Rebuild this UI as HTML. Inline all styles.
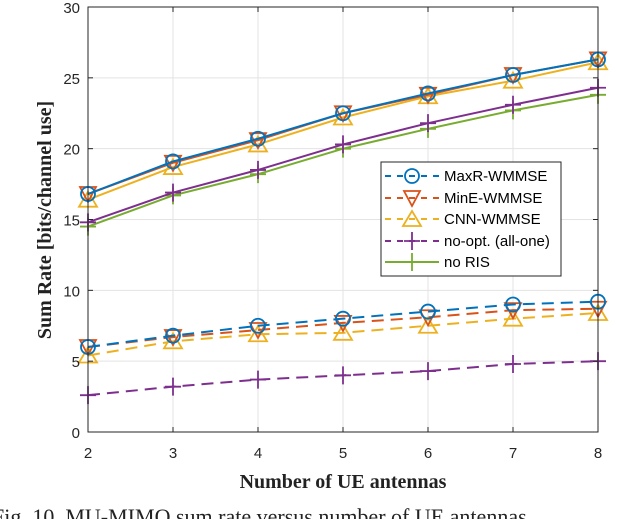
<!DOCTYPE html>
<html><head><meta charset="utf-8"><style>
body{margin:0;background:#fff;}
svg{display:block;font-family:"Liberation Sans",sans-serif;}
</style></head><body>
<svg id="chart" width="640" height="519" viewBox="0 0 640 519" xmlns="http://www.w3.org/2000/svg">
<g id="grid"></g>
<g id="series"></g>
<g id="axes"></g>
<text x="0" y="0" transform="translate(51,220) rotate(-90)" text-anchor="middle" font-family="Liberation Serif,serif" font-weight="bold" font-size="20" fill="#222">Sum Rate [bits/channel use]</text>
<text x="343" y="488" text-anchor="middle" font-family="Liberation Serif,serif" font-weight="bold" font-size="20" fill="#222">Number of UE antennas</text>
<text x="-8" y="524" font-family="Liberation Serif,serif" font-size="22" fill="#222">Fig. 10. MU-MIMO sum rate versus number of UE antennas</text>
<g id="legend"></g>
</svg>
<script>
const categories=[2,3,4,5,6,7,8];
const yTicks=[0,5,10,15,20,25,30];
const maxrSolid=[16.8,19.1,20.7,22.5,23.9,25.2,26.3];
const mineSolid=[16.8,19.0,20.6,22.5,23.8,25.2,26.3];
const cnnSolid=[16.4,18.7,20.3,22.2,23.7,24.8,26.1];
const nooptSolid=[14.8,16.9,18.5,20.3,21.8,23.1,24.3];
const norisSolid=[14.5,16.7,18.2,20.0,21.4,22.7,23.8];
const maxrDashed=[6.0,6.8,7.5,8.0,8.5,9.0,9.2];
const mineDashed=[6.0,6.7,7.2,7.7,8.1,8.6,8.7];
const cnnDashed=[5.4,6.4,6.9,7.0,7.5,8.0,8.4];
const nooptDashed=[2.6,3.2,3.7,4.0,4.3,4.8,5.0];
const legendLabels=["MaxR-WMMSE","MinE-WMMSE","CNN-WMMSE","no-opt. (all-one)","no RIS"];

const NS="http://www.w3.org/2000/svg";
const L=88,R=598,T=7,B=432;
const xs=v=>L+(v-2)/6*(R-L);
const ys=v=>B-v/30*(B-T);
function mk(tag,attrs,parent){const e=document.createElementNS(NS,tag);for(const k in attrs)e.setAttribute(k,attrs[k]);parent.appendChild(e);return e;}
const grid=document.getElementById('grid'),axes=document.getElementById('axes'),ser=document.getElementById('series'),leg=document.getElementById('legend');
mk('rect',{x:L,y:T,width:R-L,height:B-T,fill:'#fff'},grid);
categories.forEach(c=>{
  const g=mk('line',{x1:xs(c),x2:xs(c),y1:T,y2:B,stroke:'#e3e3e3','stroke-width':1},grid);
  
  const t=mk('text',{x:xs(c),y:B+26,'text-anchor':'middle','font-size':15,fill:'#262626'},axes);t.textContent=c;
  
  mk('line',{x1:xs(c),x2:xs(c),y1:B,y2:B-5,stroke:'#262626'},axes);
  mk('line',{x1:xs(c),x2:xs(c),y1:T,y2:T+5,stroke:'#262626'},axes);
});
yTicks.forEach(v=>{
  const g=mk('line',{x1:L,x2:R,y1:ys(v),y2:ys(v),stroke:'#e3e3e3','stroke-width':1},grid);
  
  const t=mk('text',{x:L-8,y:ys(v)+6,'text-anchor':'end','font-size':15,fill:'#262626'},axes);t.textContent=v;
  
  mk('line',{x1:L,x2:L+5,y1:ys(v),y2:ys(v),stroke:'#262626'},axes);
  mk('line',{x1:R,x2:R-5,y1:ys(v),y2:ys(v),stroke:'#262626'},axes);
});
mk('rect',{x:L,y:T,width:R-L,height:B-T,fill:'none',stroke:'#262626','stroke-width':1},axes);

function marker(type,x,y,color,parent){
  if(type==='o')return mk('circle',{cx:x,cy:y,r:7,fill:'none',stroke:color,'stroke-width':1.8},parent);
  if(type==='v')return mk('path',{d:`M${x-8},${y-7}L${x+8},${y-7}L${x},${y+8}Z`,fill:'none',stroke:color,'stroke-width':1.8},parent);
  if(type==='^')return mk('path',{d:`M${x-9},${y+7}L${x+9},${y+7}L${x},${y-8}Z`,fill:'none',stroke:color,'stroke-width':1.8},parent);
  if(type==='+')return mk('path',{d:`M${x-8},${y}L${x+8},${y}M${x},${y-9}L${x},${y+9}`,fill:'none',stroke:color,'stroke-width':1.8},parent);
}
const C={b:'#0072BD',o:'#D95319',y:'#EDB120',p:'#7E2F8E',g:'#77AC30'};
const defs=[
 [norisSolid,C.g,'+',false,'no-ris'],
 [nooptSolid,C.p,'+',false,'no-opt-ris'],
 [cnnSolid,C.y,'^',false,'cnn-wmmse-ris'],
 [mineSolid,C.o,'v',false,'mine-wmmse-ris'],
 [maxrSolid,C.b,'o',false,'maxr-wmmse-ris'],
 [nooptDashed,C.p,'+',true,'no-opt-dashed'],
 [cnnDashed,C.y,'^',true,'cnn-wmmse-dashed'],
 [mineDashed,C.o,'v',true,'mine-wmmse-dashed'],
 [maxrDashed,C.b,'o',true,'maxr-wmmse-dashed'],
];
defs.forEach(([vals,col,m,dash,name])=>{
  const g=mk('g',{},ser);
  
  
  const pts=vals.map((v,i)=>xs(categories[i])+','+ys(v)).join(' ');
  const pl=mk('polyline',{points:pts,fill:'none',stroke:col,'stroke-width':2,'stroke-dasharray':dash?'12,7':'none'},g);
  
  vals.forEach((v,i)=>{const mm=marker(m,xs(categories[i]),ys(v),col,g);
    });
});
// legend
const lb=mk('rect',{x:381,y:162,width:180,height:114,fill:'#fff',stroke:'#262626','stroke-width':1},leg);

const legDefs=[[C.b,'o',true],[C.o,'v',true],[C.y,'^',true],[C.p,'+',true],[C.g,'+',false]];
const legY=[176,198,219,241,262];
legDefs.forEach(([col,m,dash],i)=>{
  const y=legY[i];
  const g=mk('g',{},leg);
  
  
  mk('line',{x1:385,x2:439,y1:y,y2:y,stroke:col,'stroke-width':2,'stroke-dasharray':dash?'6,6':'none'},g);
  marker(m,412,y,col,g);
  const t=mk('text',{x:444,y:y+5,'font-size':15,fill:'#000'},g);t.textContent=legendLabels[i];
});
</script>
</body></html>
